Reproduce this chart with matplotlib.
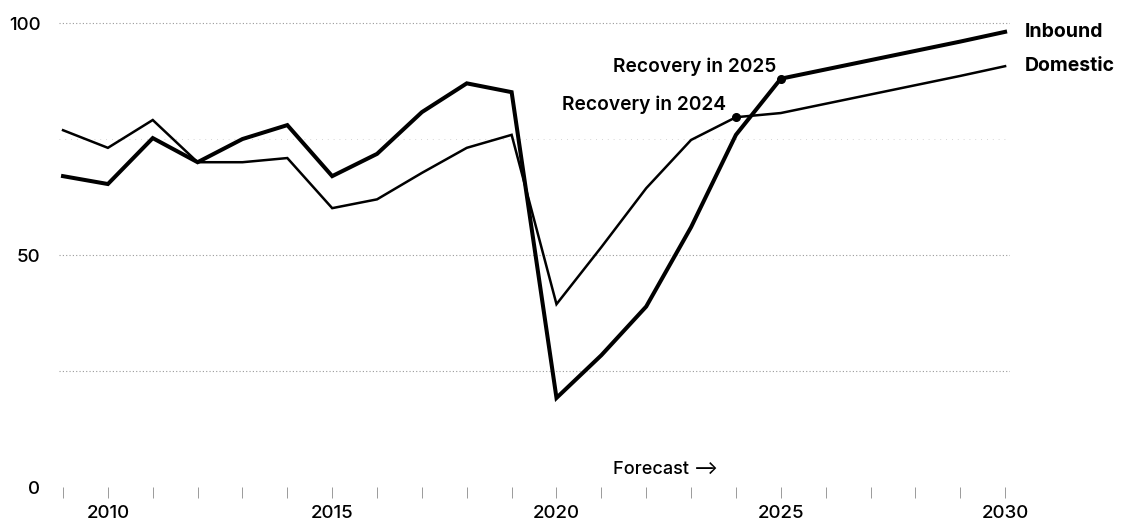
import numpy as np
import matplotlib
matplotlib.use("Agg")
import matplotlib.pyplot as plt

plt.rcParams['font.family'] = ['Inter', 'DejaVu Sans']

# yearly index values, 2009-2030 (2025 onward is forecast)
years = list(range(2009, 2031))
inbound = [67.0, 65.3, 75.2, 70.0, 75.0, 78.0, 67.0, 71.8, 80.8, 87.0, 85.1,
           19.2, 28.4, 38.9, 56.0, 75.9, 88.0, 90.0, 92.0, 94.0, 96.0, 98.1]
domestic = [76.9, 73.1, 79.1, 70.0, 70.0, 70.9, 60.1, 62.0, 67.7, 73.1, 75.9,
            39.4, 51.7, 64.4, 74.8, 79.7, 80.6, 82.6, 84.6, 86.6, 88.6, 90.7]

xticks = [2010, 2015, 2020, 2025, 2030]
yticks = [0, 50, 100]
grid_levels = [25, 50, 100]
recovery = {"Inbound": 2025, "Domestic": 2024}

fig = plt.figure(figsize=(11.26, 5.24), dpi=100)
ax = fig.add_axes([0.0520, 0.0706, 0.8446, 0.8943])

ax.set_xlim(2008.9, 2030.1)
ax.set_ylim(0, 101)

# dotted gridlines
for g in grid_levels:
    ax.axhline(g, color="#9a9a9a", lw=0.8, ls=(0, (1, 2)), zorder=0)
ax.axhline(75, color="#c8c8c8", lw=0.6, ls=(0, (1, 6)), zorder=0)

ax.plot(years, domestic, color="black", lw=1.8, solid_joinstyle="miter", zorder=3)
ax.plot(years, inbound, color="black", lw=2.9, solid_joinstyle="miter", zorder=4)

# recovery markers
for name, series, dx in [("Inbound", inbound, -3), ("Domestic", domestic, -7)]:
    yr = recovery[name]
    val = series[years.index(yr)]
    ax.plot(yr, val, "o", color="black", ms=5.5, zorder=5)
    ax.annotate(f"Recovery in {yr}", (yr, val), xytext=(dx, 5),
                textcoords="offset points", ha="right", va="baseline",
                fontsize=13.8, fontweight="semibold")

# series labels at the line ends
for name, series in [("Inbound", inbound), ("Domestic", domestic)]:
    ax.annotate(name, (years[-1], series[-1]), xytext=(14, 0),
                textcoords="offset points", ha="left", va="center",
                fontsize=14, fontweight="bold", annotation_clip=False)

ax.text(2021.25, 3.8, "Forecast \u27f6", fontsize=13, fontweight="medium",
        va="center", ha="left")

for s in ax.spines.values():
    s.set_visible(False)

ax.set_xticks(years, minor=True)
ax.set_xticks(xticks)
ax.set_xticklabels([str(x) for x in xticks], fontsize=13.5, fontweight="medium")
ax.tick_params(axis="x", which="both", direction="out", length=8, width=0.7,
               color="#9a9a9a", pad=5)
ax.set_yticks(yticks)
ax.set_yticklabels([str(y) for y in yticks], fontsize=13.5, fontweight="medium")
ax.tick_params(axis="y", length=0, pad=13)
for lbl in ax.get_yticklabels():
    if lbl.get_text() == "0":
        lbl.set_y(1.0)

fig.savefig("out.png", dpi=100)
